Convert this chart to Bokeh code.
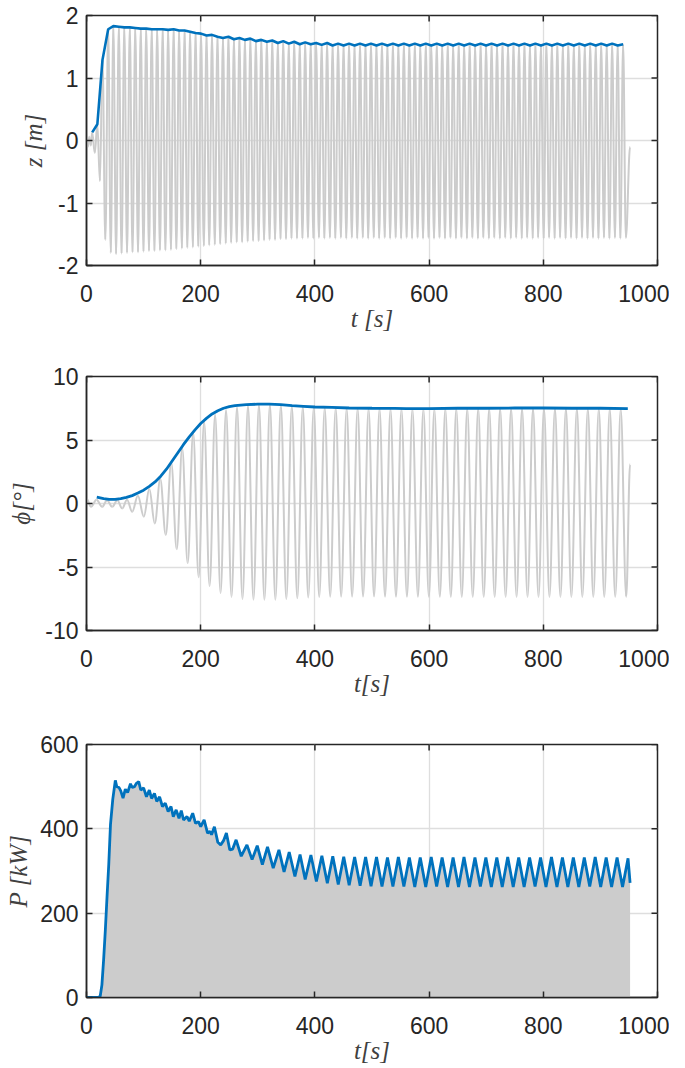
import numpy as np
from bokeh.plotting import figure
from bokeh.models import FixedTicker, Range1d
from bokeh.layouts import column
from bokeh.embed import file_html
from bokeh.resources import INLINE

# ---------------------------------------------------------------- data
x_ticks = [0, 200, 400, 600, 800, 1000]
z_ticks = [-2, -1, 0, 1, 2]
phi_ticks = [-10, -5, 0, 5, 10]
p_ticks = [0, 200, 400, 600]

# heave z [m]: peaks of the grey signal (the blue line joins them)
z_peak_t = [10, 19, 28, 38,
            47, 56.6, 66.2, 75.8, 85.4,
            95, 104.6, 114.2, 123.8, 133.4,
            143, 152.6, 162.2, 171.8, 181.4,
            191, 200.6, 210.2, 219.8, 229.4,
            239, 248.6, 258.2, 267.8, 277.4,
            287, 296.6, 306.2, 315.8, 325.4,
            335, 344.6, 354.2, 363.8, 373.4,
            383, 392.6, 402.2, 411.8, 421.4,
            431, 440.6, 450.2, 459.8, 469.4,
            479, 488.6, 498.2, 507.8, 517.4,
            527, 536.6, 546.2, 555.8, 565.4,
            575, 584.6, 594.2, 603.8, 613.4,
            623, 632.6, 642.2, 651.8, 661.4,
            671, 680.6, 690.2, 699.8, 709.4,
            719, 728.6, 738.2, 747.8, 757.4,
            767, 776.6, 786.2, 795.8, 805.4,
            815, 824.6, 834.2, 843.8, 853.4,
            863, 872.6, 882.2, 891.8, 901.4,
            911, 920.6, 930.2, 939.8]
z_peak_v = [0.13, 0.26, 1.29, 1.78,
            1.83, 1.82, 1.81, 1.81, 1.80,
            1.79, 1.79, 1.78, 1.78, 1.78,
            1.77, 1.78, 1.76, 1.76, 1.74,
            1.72, 1.71, 1.68, 1.69, 1.66,
            1.64, 1.66, 1.62, 1.64, 1.61,
            1.63, 1.59, 1.61, 1.58, 1.60,
            1.56, 1.59, 1.55, 1.58, 1.54,
            1.57, 1.54, 1.56, 1.53, 1.56,
            1.52, 1.55, 1.52, 1.55, 1.52,
            1.55, 1.52, 1.55, 1.52, 1.55,
            1.52, 1.55, 1.52, 1.55, 1.52,
            1.55, 1.52, 1.55, 1.52, 1.55,
            1.52, 1.55, 1.52, 1.55, 1.52,
            1.55, 1.52, 1.55, 1.52, 1.55,
            1.52, 1.55, 1.52, 1.55, 1.52,
            1.55, 1.52, 1.55, 1.52, 1.55,
            1.52, 1.55, 1.52, 1.55, 1.52,
            1.55, 1.52, 1.55, 1.52, 1.55,
            1.52, 1.55, 1.52, 1.54]
z_trough_t = [2.5, 7.5, 14.5, 23.5, 33, 42.5,
              51.8, 61.4, 71, 80.6, 90.2,
              99.8, 109.4, 119, 128.6, 138.2,
              147.8, 157.4, 167, 176.6, 186.2,
              195.8, 205.4, 215, 224.6, 234.2,
              243.8, 253.4, 263, 272.6, 282.2,
              291.8, 301.4, 311, 320.6, 330.2,
              339.8, 349.4, 359, 368.6, 378.2,
              387.8, 397.4, 407, 416.6, 426.2,
              435.8, 445.4, 455, 464.6, 474.2,
              483.8, 493.4, 503, 512.6, 522.2,
              531.8, 541.4, 551, 560.6, 570.2,
              579.8, 589.4, 599, 608.6, 618.2,
              627.8, 637.4, 647, 656.6, 666.2,
              675.8, 685.4, 695, 704.6, 714.2,
              723.8, 733.4, 743, 752.6, 762.2,
              771.8, 781.4, 791, 800.6, 810.2,
              819.8, 829.4, 839, 848.6, 858.2,
              867.8, 877.4, 887, 896.6, 906.2,
              915.8, 925.4, 935, 944.6]
z_trough_v = [-0.10, -0.08, -0.20, -0.65, -1.59, -1.80,
              -1.82, -1.81, -1.80, -1.79, -1.79,
              -1.78, -1.77, -1.77, -1.76, -1.76,
              -1.75, -1.74, -1.73, -1.72, -1.71,
              -1.70, -1.69, -1.68, -1.67, -1.66,
              -1.65, -1.64, -1.63, -1.63, -1.62,
              -1.61, -1.61, -1.60, -1.59, -1.59,
              -1.58, -1.58, -1.57, -1.57, -1.57,
              -1.56, -1.57, -1.56, -1.57, -1.56,
              -1.57, -1.56, -1.57, -1.56, -1.57,
              -1.56, -1.57, -1.56, -1.57, -1.56,
              -1.57, -1.56, -1.57, -1.56, -1.57,
              -1.56, -1.57, -1.56, -1.57, -1.56,
              -1.57, -1.56, -1.57, -1.56, -1.57,
              -1.56, -1.57, -1.56, -1.57, -1.56,
              -1.57, -1.56, -1.57, -1.56, -1.57,
              -1.56, -1.57, -1.56, -1.57, -1.56,
              -1.57, -1.56, -1.57, -1.56, -1.57,
              -1.56, -1.57, -1.56, -1.57, -1.56,
              -1.57, -1.56, -1.57, -1.56]
z_other_t = [0, 5, 952]
z_other_v = [0.02, 0.06, -0.10]

# pitch phi [deg]: grey signal peaks / troughs and the blue envelope
phi_peak_t = [0, 17.5, 36, 54, 71, 90, 110,
              129.2, 148.4, 167.6, 186.8, 206,
              225.2, 244.4, 263.6, 282.8, 302,
              321.2, 340.4, 359.6, 378.8, 398,
              417.2, 436.4, 455.6, 474.8, 494,
              513.2, 532.4, 551.6, 570.8, 590,
              609.2, 628.4, 647.6, 666.8, 686,
              705.2, 724.4, 743.6, 762.8, 782,
              801.2, 820.4, 839.6, 858.8, 878,
              897.2, 916.4, 935.6]
phi_peak_v = [0.40, 0.30, 0.26, 0.26, 0.30, 0.62, 1.15,
              1.92, 3.22, 4.35, 5.60, 6.45,
              7.00, 7.36, 7.57, 7.70, 7.78,
              7.80, 7.76, 7.68, 7.61, 7.55,
              7.53, 7.51, 7.49, 7.48, 7.47,
              7.46, 7.45, 7.44, 7.44, 7.44,
              7.45, 7.46, 7.47, 7.47, 7.48,
              7.48, 7.48, 7.49, 7.49, 7.49,
              7.49, 7.48, 7.48, 7.48, 7.47,
              7.47, 7.46, 7.45]
phi_trough_t = [8, 27.4, 45, 62.5, 80, 100.4,
                119.6, 138.8, 158, 177.2, 196.4,
                215.6, 234.8, 254, 273.2, 292.4,
                311.6, 330.8, 350, 369.2, 388.4,
                407.6, 426.8, 446, 465.2, 484.4,
                503.6, 522.8, 542, 561.2, 580.4,
                599.6, 618.8, 638, 657.2, 676.4,
                695.6, 714.8, 734, 753.2, 772.4,
                791.6, 810.8, 830, 849.2, 868.4,
                887.6, 906.8, 926, 945.2]
phi_trough_v = [-0.26, -0.26, -0.26, -0.39, -0.65, -1.04,
                -1.57, -2.48, -3.60, -4.70, -5.80,
                -6.50, -7.05, -7.36, -7.52, -7.57,
                -7.57, -7.57, -7.52, -7.47, -7.40,
                -7.36, -7.34, -7.33, -7.33, -7.33,
                -7.33, -7.34, -7.35, -7.35, -7.35,
                -7.35, -7.35, -7.35, -7.35, -7.35,
                -7.35, -7.35, -7.35, -7.35, -7.35,
                -7.35, -7.35, -7.35, -7.35, -7.35,
                -7.35, -7.35, -7.35, -7.35]
phi_other_t = [952]
phi_other_v = [3.1]
phi_env_t = [18, 30, 40, 50, 60, 70, 80, 90, 100, 110, 120, 130, 140, 150,
             160, 170, 180, 190, 200, 210, 220, 230, 240, 250, 260, 270, 280,
             300, 320, 340, 360, 380, 400, 430, 460, 500, 540, 560, 600, 650,
             700, 750, 800, 850, 900, 948]
phi_env_v = [0.50, 0.38, 0.33, 0.33, 0.38, 0.48, 0.62, 0.82, 1.05, 1.35, 1.70,
             2.15, 2.70, 3.35, 4.00, 4.65, 5.25, 5.80, 6.30, 6.70, 7.05, 7.30,
             7.50, 7.62, 7.70, 7.75, 7.78, 7.82, 7.83, 7.78, 7.70, 7.65, 7.60,
             7.57, 7.52, 7.50, 7.49, 7.47, 7.47, 7.50, 7.50, 7.52, 7.52, 7.50,
             7.50, 7.47]

# power P [kW]: blue envelope (grey fill lies beneath it)
P_early_t = [0, 10, 21, 24, 27, 30, 33, 36, 39, 42, 46, 50.5, 53, 57, 60, 64,
             68, 72, 77, 80, 84, 87.5, 91.5, 95, 100, 105, 110, 114, 119, 123,
             128, 133, 138, 143, 148, 152, 157, 162, 166, 170, 176, 180, 186,
             191, 196, 200, 206, 212, 216, 219, 224, 230, 235, 240, 245, 251,
             256, 262, 271, 281, 290, 299, 308, 317, 327, 337, 346, 355, 365,
             374, 383]
P_early_v = [0, 0, 0, 3, 30, 90, 160, 240, 316, 410, 470, 515, 500, 498, 490,
             473, 494, 486, 507, 498, 500, 508, 512, 492, 497, 476, 492, 472,
             484, 465, 476, 453, 461, 441, 453, 429, 445, 425, 443, 421, 429,
             418, 437, 413, 417, 405, 421, 390, 394, 386, 405, 368, 362, 372,
             390, 350, 352, 374, 335, 362, 327, 360, 315, 357, 307, 350, 298,
             345, 287, 339, 280]
P_peak_t = [393, 412.2, 431.3, 450.5, 469.6, 488.8, 507.9, 527.1, 546.2, 565.4,
            584.5, 603.7, 622.8, 642, 661.1, 680.3, 699.4, 718.6, 737.7, 756.9,
            776, 795.2, 814.3, 833.5, 852.6, 871.8, 890.9, 910.1, 929.2, 948.4]
P_peak_v = [338, 336, 335, 334, 333, 333, 333, 332, 333, 332,
            332, 333, 332, 332, 333, 332, 332, 332, 333, 332,
            332, 332, 333, 332, 332, 332, 333, 332, 332, 330]
P_trough_t = [402.6, 421.8, 440.9, 460, 479.2, 498.3, 517.5, 536.6, 555.8,
              574.9, 594.1, 613.2, 632.4, 651.5, 670.7, 689.8, 709, 728.1,
              747.3, 766.4, 785.6, 804.7, 823.9, 843, 862.2, 881.3, 900.5,
              919.6, 938.8]
P_trough_v = [275, 271, 268, 266, 265, 264, 263, 263, 263,
              262, 262, 263, 262, 262, 262, 263, 262, 262,
              262, 262, 263, 262, 262, 262, 262, 263, 262,
              262, 262]
P_end_t = [952]
P_end_v = [272]

# ---------------------------------------------------------------- style
GREY = "#cccccc"
BLUE = "#0072BD"
INK = "#262626"
LAB = "#404040"
TICK_FONT = "Liberation Sans"
LAB_FONT = "Liberation Serif"
FS = 23
LFS = 25
ROUND = 0.3642   # bezier handle fraction giving rounded extrema


def merge(*pairs):
    t = np.concatenate([np.asarray(a, float) for a, _ in pairs])
    v = np.concatenate([np.asarray(b, float) for _, b in pairs])
    o = np.argsort(t, kind="stable")
    return t[o], v[o]


def wave(p, t, v, width):
    """Draw the measured extrema joined by curves with flat tangents."""
    dx = np.diff(t)
    p.bezier(x0=t[:-1], y0=v[:-1], x1=t[1:], y1=v[1:],
             cx0=t[:-1] + ROUND * dx, cy0=v[:-1],
             cx1=t[1:] - ROUND * dx, cy1=v[1:],
             line_color=GREY, line_width=width)


def make_fig(yr, yticks, bt, bb, fh, xlabel, ylabel, ylab_standoff):
    p = figure(frame_width=571, frame_height=fh,
               x_range=Range1d(0, 1000), y_range=Range1d(*yr),
               min_border_left=86, min_border_right=12,
               min_border_top=bt, min_border_bottom=bb,
               output_backend="svg", toolbar_location=None, tools="")
    p.background_fill_color = "white"
    p.border_fill_color = "white"
    p.outline_line_color = INK
    p.outline_line_width = 1.5
    p.xaxis.ticker = FixedTicker(ticks=x_ticks)
    p.yaxis.ticker = FixedTicker(ticks=yticks)
    p.xgrid.ticker = FixedTicker(ticks=x_ticks)
    p.ygrid.ticker = FixedTicker(ticks=yticks)
    p.grid.grid_line_color = "#dedede"
    p.grid.grid_line_width = 1.3
    p.xaxis.major_label_overrides = {t: str(t) for t in x_ticks}
    p.yaxis.major_label_overrides = {t: str(t) for t in yticks}
    for ax in (p.xaxis[0], p.yaxis[0]):
        ax.major_tick_in = 6
        ax.major_tick_out = 0
        ax.minor_tick_in = 0
        ax.minor_tick_out = 0
        ax.major_tick_line_color = INK
        ax.major_tick_line_width = 1.5
        ax.axis_line_color = INK
        ax.axis_line_width = 1.5
        ax.major_label_text_font = TICK_FONT
        ax.major_label_text_font_size = f"{FS}px"
        ax.major_label_text_color = INK
        ax.axis_label_text_font = LAB_FONT
        ax.axis_label_text_font_size = f"{LFS}px"
        ax.axis_label_text_font_style = "italic"
        ax.axis_label_text_color = LAB
    p.xaxis.major_label_standoff = 19
    p.yaxis.major_label_standoff = 8
    p.xaxis.axis_label = xlabel
    p.yaxis.axis_label = ylabel
    p.xaxis.axis_label_standoff = 0
    p.yaxis.axis_label_standoff = ylab_standoff
    # inward ticks on the top and right edges of the box
    p.scatter(x=x_ticks, y=[yr[1]] * len(x_ticks), marker="dash", size=12,
              angle=np.pi / 2, line_color=INK, line_width=1.5)
    p.scatter(x=[1000] * len(yticks), y=yticks, marker="dash", size=12,
              line_color=INK, line_width=1.5)
    return p


# ---------------------------------------------------------------- z plot
p1 = make_fig((-2, 2), z_ticks, 15, 99, 250, "t [s]", "z [m]", 8)
zt, zv = merge((z_peak_t, z_peak_v), (z_trough_t, z_trough_v),
               (z_other_t, z_other_v))
wave(p1, zt, zv, 2.0)
p1.line(z_peak_t, z_peak_v, line_color=BLUE, line_width=2.6)

# ---------------------------------------------------------------- phi plot
p2 = make_fig((-10, 10), phi_ticks, 12, 102, 254, "t[s]", "ϕ[°]", 7)
ft, fv = merge((phi_peak_t, phi_peak_v), (phi_trough_t, phi_trough_v),
               (phi_other_t, phi_other_v))
wave(p2, ft, fv, 2.0)
p2.line(phi_env_t, phi_env_v, line_color=BLUE, line_width=2.8)

# ---------------------------------------------------------------- P plot
p3 = make_fig((0, 600), p_ticks, 12, 60, 253, "t[s]", "P [kW]", 5)
pt, pv = merge((P_early_t, P_early_v), (P_peak_t, P_peak_v),
               (P_trough_t, P_trough_v), (P_end_t, P_end_v))
p3.varea(x=pt, y1=np.zeros_like(pv), y2=pv, fill_color=GREY, fill_alpha=1.0)
on = pt[pv > 0]
p3.line([on[0], on[-1]], [0, 0], line_color="#9a9a9a", line_width=1,
        line_dash="1 2")
p3.line(pt, pv, line_color=BLUE, line_width=2.8)

layout = column(p1, p2, p3)
open("out.html", "w").write(file_html(layout, INLINE))
